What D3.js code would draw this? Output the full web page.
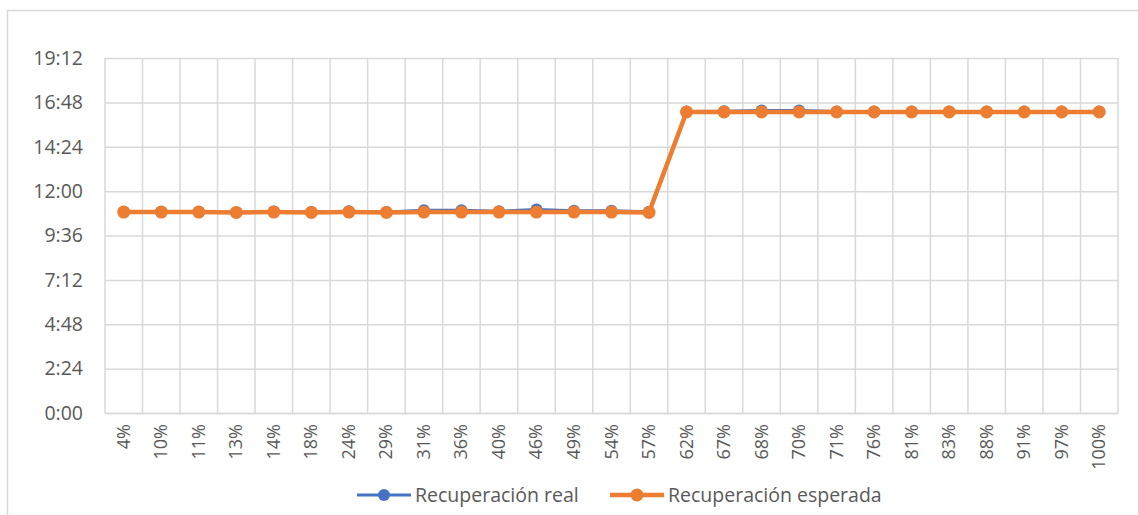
<!DOCTYPE html>
<html>
<head>
<meta charset="utf-8">
<script src="https://cdn.jsdelivr.net/npm/d3@7"></script>
<style>
  body { margin: 0; background: #fff; }
  text { font-family: "Open Sans", sans-serif; fill: #595959; }
</style>
</head>
<body>
<script>
let categories = ['4%', '10%', '11%', '13%', '14%', '18%', '24%', '29%', '31%', '36%', '40%', '46%', '49%', '54%',
                  '57%', '62%', '67%', '68%', '70%', '71%', '76%', '81%', '83%', '88%', '91%', '97%', '100%']

let real = ['10:53', '10:53', '10:53', '10:51', '10:54', '10:52', '10:55', '10:52', '10:58', '10:58', '10:55', '11:00', '10:56', '10:56',
            '10:53', '16:18', '16:19', '16:22', '16:22', '16:18', '16:18', '16:18', '16:18', '16:18', '16:18', '16:18', '16:18']

let esperada = ['10:52', '10:52', '10:52', '10:51', '10:52', '10:51', '10:52', '10:51', '10:52', '10:52', '10:52', '10:52', '10:52', '10:52',
                '10:51', '16:17', '16:17', '16:17', '16:17', '16:17', '16:17', '16:17', '16:17', '16:17', '16:17', '16:17', '16:17']

let yTicks = ['0:00', '2:24', '4:48', '7:12', '9:36', '12:00', '14:24', '16:48', '19:12']

let series = [
    { name: 'Recuperación real', values: real, color: '#4472C4', width: 3, r: 6 },
    { name: 'Recuperación esperada', values: esperada, color: '#ED7D31', width: 4.5, r: 6.5 }
]

// "h:mm" -> fraction of a day, like Excel stores times
let toDay = s => {
    let [h, m] = s.split(':').map(Number)
    return (h * 60 + m) / 1440
}

let margin = { top: 58, bottom: 102, left: 105, right: 20 }
let W = 1138, H = 515
let width = W - margin.left - margin.right
let height = H - margin.top - margin.bottom

let svg = d3.select('body')
    .append('svg')
    .attr('width', W)
    .attr('height', H)

// chart frame
svg.append('rect')
    .attr('x', 7.5)
    .attr('y', 10.5)
    .attr('width', W + 20)
    .attr('height', H + 20)
    .attr('fill', 'none')
    .attr('stroke', '#d9d9d9')
    .attr('stroke-width', 1.5)

let g = svg.append('g')
    .attr('transform', 'translate(' + margin.left + ',' + margin.top + ')')

let x = d3.scaleBand()
    .domain(categories)
    .range([0, width])

let y = d3.scaleLinear()
    .domain([0, toDay('19:12')])
    .range([height, 0])

// horizontal grid + y labels
let yAxis = d3.axisLeft(y)
    .tickValues(yTicks.map(toDay))
    .tickFormat((d, i) => yTicks[i])
    .tickSize(-width)
    .tickPadding(22)

g.append('g')
    .attr('class', 'y-axis')
    .call(yAxis)
    .call(a => a.select('.domain').remove())
    .call(a => a.selectAll('line').attr('stroke', '#d9d9d9').attr('stroke-width', 1.5))
    .call(a => a.selectAll('text').attr('font-size', 19.5).attr('fill', '#595959'))

// vertical grid at category boundaries
let bounds = categories.map(c => x(c)).concat([width])
g.append('g')
    .selectAll('line')
    .data(bounds)
    .enter()
    .append('line')
    .attr('x1', d => d)
    .attr('x2', d => d)
    .attr('y1', 0)
    .attr('y2', height)
    .attr('stroke', '#d9d9d9')
    .attr('stroke-width', 1.5)

// x labels, rotated
let xAxis = d3.axisBottom(x).tickSize(0).tickPadding(0)
g.append('g')
    .attr('transform', 'translate(0,' + height + ')')
    .call(xAxis)
    .call(a => a.select('.domain').attr('stroke', '#d9d9d9').attr('stroke-width', 1.5))
    .call(a => a.selectAll('text')
        .attr('font-size', 18)
        .attr('fill', '#595959')
        .attr('text-anchor', 'end')
        .attr('dy', null)
        .attr('transform', 'translate(6,11) rotate(-90)'))

let line = d3.line()
    .x((d, i) => x(categories[i]) + x.bandwidth() / 2)
    .y(d => y(toDay(d)))

series.forEach(s => {
    g.append('path')
        .datum(s.values)
        .attr('fill', 'none')
        .attr('stroke', s.color)
        .attr('stroke-width', s.width)
        .attr('stroke-linejoin', 'round')
        .attr('d', line)

    g.append('g')
        .selectAll('circle')
        .data(s.values)
        .enter()
        .append('circle')
        .attr('cx', (d, i) => x(categories[i]) + x.bandwidth() / 2)
        .attr('cy', d => y(toDay(d)))
        .attr('r', s.r)
        .attr('fill', s.color)
})

// legend
let legend = svg.append('g')
    .attr('transform', 'translate(0,495)')

let legendX = [357, 610]
series.forEach((s, i) => {
    let lg = legend.append('g').attr('transform', 'translate(' + legendX[i] + ',0)')
    lg.append('line')
        .attr('x1', 0).attr('x2', 54)
        .attr('stroke', s.color)
        .attr('stroke-width', s.width)
    lg.append('circle')
        .attr('cx', 27).attr('r', s.r)
        .attr('fill', s.color)
    lg.append('text')
        .attr('x', 58)
        .attr('dy', '0.35em')
        .attr('font-size', 19.5)
        .text(s.name)
})
</script>
</body>
</html>
